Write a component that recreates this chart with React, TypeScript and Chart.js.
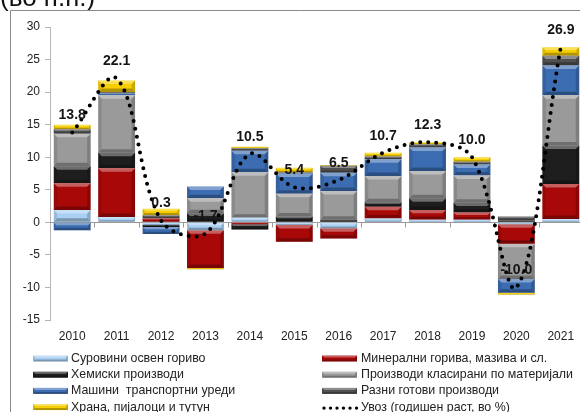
import React, { useEffect, useRef } from "react";
import { Chart, registerables } from "chart.js";

Chart.register(...registerables);

const years = ["2010", "2011", "2012", "2013", "2014", "2015", "2016", "2017", "2018", "2019", "2020", "2021"];
const seriesNames = [
  "Суровини освен гориво",
  "Минерални горива, мазива и сл.",
  "Хемиски производи",
  "Производи класирани по материјали",
  "Машини  транспортни уреди",
  "Разни готови производи",
  "Храна, пијалоци и тутун",
];
const lineName = "Увоз (годишен раст, во %)";
const surovini = [1.9, 0.8, -0.4, -1.2, 0.7, -0.4, -0.9, 0.6, 0.4, 0.4, -0.3, 0.5];
const mineralni = [4.1, 7.5, 0.6, -5.8, -0.3, -2.6, -1.6, 1.8, 1.5, 1.1, -3.0, 5.4];
const hemiski = [2.6, 2.4, -0.3, 1.4, -0.8, 0.9, 0.4, 0.7, 1.8, 1.5, 0.3, 5.9];
const proizvodi = [5.0, 8.8, 0, 2.3, 7.0, 3.5, 4.4, 4.0, 4.2, 4.2, -5.4, 7.7];
const mashini = [-1.2, 0.3, -1.1, 1.8, 3.3, 3.1, 2.8, 2.6, 3.6, 1.7, -2.1, 4.6];
const razni = [0.7, 0.2, 0.5, 0, 0.4, 0.2, 1.1, 0.4, 0.5, 0.4, 0.6, 1.5];
const hrana = [0.7, 1.8, 1.0, -0.2, 0.2, 0.7, 0.1, 0.6, 0.3, 0.7, -0.3, 1.3];
const uvoz = [13.8, 22.1, 0.3, -1.7, 10.5, 5.4, 6.5, 10.7, 12.3, 10.0, -10.0, 26.9];
const yTicksMin = -15;
const yTicksMax = 30;
const yStep = 5;

const seriesValues = [surovini, mineralni, hemiski, proizvodi, mashini, razni, hrana];
const seriesColors = ["#a9d0f3", "#a80808", "#1e1e1e", "#9a9a9a", "#3c6db2", "#505050", "#f7cf00"];

const FONT = '"Liberation Sans", Arial, sans-serif';

function drawBevel(ctx: CanvasRenderingContext2D, l: number, t: number, r: number, b: number) {
  const w = r - l;
  const h = b - t;
  if (h < 0.5 || w < 1) return;
  const s = Math.min(3.5, h / 3, w / 4);
  ctx.fillStyle = "rgba(255,255,255,0.35)";
  ctx.beginPath();
  ctx.moveTo(l, t); ctx.lineTo(r, t); ctx.lineTo(r - s, t + s); ctx.lineTo(l + s, t + s); ctx.closePath();
  ctx.fill();
  ctx.fillStyle = "rgba(0,0,0,0.28)";
  ctx.beginPath();
  ctx.moveTo(l, b); ctx.lineTo(r, b); ctx.lineTo(r - s, b - s); ctx.lineTo(l + s, b - s); ctx.closePath();
  ctx.fill();
  ctx.fillStyle = "rgba(0,0,0,0.10)";
  ctx.beginPath();
  ctx.moveTo(l, t); ctx.lineTo(l + s, t + s); ctx.lineTo(l + s, b - s); ctx.lineTo(l, b); ctx.closePath();
  ctx.fill();
  ctx.fillStyle = "rgba(0,0,0,0.18)";
  ctx.beginPath();
  ctx.moveTo(r, t); ctx.lineTo(r - s, t + s); ctx.lineTo(r - s, b - s); ctx.lineTo(r, b); ctx.closePath();
  ctx.fill();
}

const framePlugin = {
  id: "frame",
  beforeDraw(chart: any) {
    const ctx = chart.ctx as CanvasRenderingContext2D;
    ctx.save();
    ctx.fillStyle = "#fff";
    ctx.fillRect(0, 0, chart.width, chart.height);
    ctx.fillStyle = "#111";
    ctx.font = `26px ${FONT}`;
    ctx.textBaseline = "alphabetic";
    ctx.textAlign = "left";
    ctx.fillText("(во п.п.)", 0, 6);
    ctx.strokeStyle = "#8a8a8a";
    ctx.lineWidth = 1;
    ctx.beginPath();
    ctx.moveTo(10.5, chart.height + 5);
    ctx.lineTo(10.5, 10.5);
    ctx.lineTo(chart.width + 5, 10.5);
    ctx.stroke();
    ctx.restore();
  },
  beforeDatasetsDraw(chart: any) {
    const ctx = chart.ctx as CanvasRenderingContext2D;
    const { left, right } = chart.chartArea;
    const y0 = Math.round(chart.scales.y.getPixelForValue(0)) + 0.5;
    const n = years.length;
    const cw = (right - left) / n;
    ctx.save();
    ctx.strokeStyle = "#9a9a9a";
    ctx.lineWidth = 1;
    ctx.beginPath();
    ctx.moveTo(left, y0);
    ctx.lineTo(right, y0);
    for (let i = 1; i < n; i++) {
      const x = Math.round(left + i * cw) + 0.5;
      ctx.moveTo(x, y0);
      ctx.lineTo(x, y0 + 5);
    }
    ctx.stroke();
    ctx.restore();
  },
  afterDatasetDraw(chart: any, args: any) {
    const meta = args.meta;
    if (meta.type !== "bar") return;
    const ctx = chart.ctx as CanvasRenderingContext2D;
    ctx.save();
    meta.data.forEach((el: any) => {
      const p = el.getProps(["x", "y", "base", "width"], true);
      const l = p.x - p.width / 2;
      const r = p.x + p.width / 2;
      const t = Math.min(p.y, p.base);
      const b = Math.max(p.y, p.base);
      drawBevel(ctx, l, t, r, b);
    });
    ctx.restore();
  },
  afterDraw(chart: any) {
    const ctx = chart.ctx as CanvasRenderingContext2D;
    ctx.save();
    // value labels
    const lineMeta = chart.getDatasetMeta(seriesNames.length);
    ctx.font = `bold 14px ${FONT}`;
    ctx.fillStyle = "#151515";
    ctx.textAlign = "center";
    ctx.textBaseline = "middle";
    lineMeta.data.forEach((pt: any, i: number) => {
      ctx.fillText(uvoz[i].toFixed(1), pt.x, pt.y - 17);
    });
    // legend
    const rowY0 = 358.5;
    const rowH = 16.2;
    const cols = [{ sx: 33, tx: 71 }, { sx: 322, tx: 361 }];
    const items = [...seriesNames, lineName];
    ctx.font = `12.4px ${FONT}`;
    ctx.textAlign = "left";
    ctx.textBaseline = "middle";
    items.forEach((name, i) => {
      const col = cols[i % 2];
      const y = rowY0 + Math.floor(i / 2) * rowH;
      if (i < seriesNames.length) {
        const sw = 35;
        ctx.fillStyle = seriesColors[i];
        ctx.fillRect(col.sx, y - 3, sw, 6);
        drawBevel(ctx, col.sx, y - 3, col.sx + sw, y + 3);
      } else {
        ctx.fillStyle = "#000";
        for (let k = 0; k < 6; k++) {
          ctx.beginPath();
          ctx.arc(col.sx + 2 + k * 6.5, y + 1, 1.7, 0, Math.PI * 2);
          ctx.fill();
        }
      }
      ctx.fillStyle = "#222";
      ctx.fillText(name, col.tx, y);
    });
    ctx.restore();
  },
};

export default function App() {
  const ref = useRef<HTMLCanvasElement | null>(null);
  useEffect(() => {
    if (!ref.current) return;
    const datasets: any[] = seriesValues.map((vals, i) => ({
      type: "bar",
      label: seriesNames[i],
      data: vals,
      backgroundColor: seriesColors[i],
      borderWidth: 0,
      stack: "bars",
      order: 1,
      barPercentage: 0.83,
      categoryPercentage: 1.0,
    }));
    datasets.push({
      type: "line",
      label: lineName,
      data: uvoz,
      borderColor: "#000",
      borderWidth: 4,
      borderDash: [0, 8],
      borderCapStyle: "round",
      pointRadius: 0,
      tension: 0.35,
      fill: false,
      stack: "line",
      order: 0,
    });
    const chart = new Chart(ref.current, {
      type: "bar",
      data: { labels: years, datasets },
      plugins: [framePlugin],
      options: {
        responsive: false,
        animation: false,
        devicePixelRatio: 1,
        layout: { padding: { top: 27, right: 7, bottom: 0, left: 0 } },
        plugins: { legend: { display: false }, tooltip: { enabled: false } },
        scales: {
          x: {
            stacked: true,
            grid: { display: false },
            border: { display: false },
            ticks: { color: "#222", font: { family: FONT, size: 12 }, padding: 1 },
            afterFit: (s: any) => { s.height = 92; },
          },
          y: {
            stacked: true,
            min: yTicksMin,
            max: yTicksMax,
            ticks: { stepSize: yStep, color: "#222", font: { family: FONT, size: 12 }, padding: 5 },
            grid: { display: true, drawOnChartArea: false, drawTicks: true, tickLength: 5, color: "#b5b5b5" },
            border: { display: true, color: "#b5b5b5" },
            afterFit: (s: any) => { s.width = 50; },
          },
        },
      } as any,
    });
    return () => chart.destroy();
  }, []);
  return (
    <div style={{ position: "absolute", left: 0, top: 0, width: 580, height: 412, overflow: "hidden", background: "#fff" }}>
      <canvas ref={ref} width={590} height={412} style={{ width: 590, height: 412, display: "block" }} />
    </div>
  );
}
